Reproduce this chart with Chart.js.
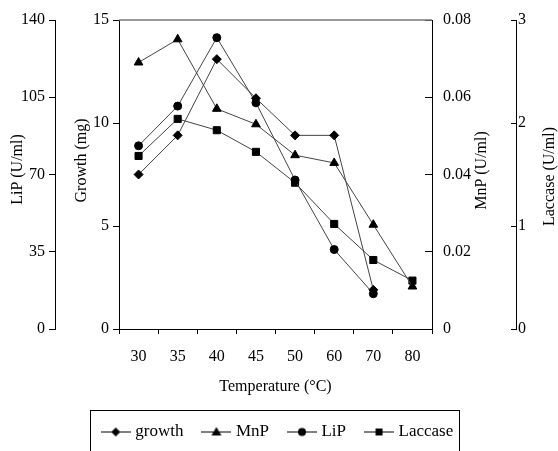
<!DOCTYPE html>
<html><head><meta charset="utf-8">
<script src="https://cdn.jsdelivr.net/npm/chart.js@4"></script>
<style>html,body{margin:0;padding:0;background:#fff}canvas{display:block}</style>
</head><body><canvas id="c" width="558" height="451"></canvas>
<script>
// ---- data ----
const temperatures = ['30', '35', '40', '45', '50', '60', '70', '80'];
const growth  = [7.5, 9.4, 13.1, 11.2, 9.4, 9.4, 1.9, null];
const mnp     = [0.069, 0.075, 0.057, 0.053, 0.045, 0.043, 0.027, 0.011];
const lip     = [83, 101, 132, 102.5, 67.5, 36, 16, null];
const laccase = [1.68, 2.04, 1.93, 1.72, 1.42, 1.02, 0.67, 0.47];
const lipTicks     = [0, 35, 70, 105, 140];
const growthTicks  = [0, 5, 10, 15];
const mnpTicks     = [0, 0.02, 0.04, 0.06, 0.08];
const laccaseTicks = [0, 1, 2, 3];
const seriesNames = ['growth', 'MnP', 'LiP', 'Laccase'];

// ---- styling ----
const FAMILY = "'Liberation Serif','Times New Roman',serif";
const FONT = {family: FAMILY, size: 16};
const LEGEND_FONT = {family: FAMILY, size: 17};
Chart.defaults.color = '#000';
Chart.defaults.font.family = FAMILY;
Chart.defaults.font.size = 16;

function makeIcon(shape) {
  const c = document.createElement('canvas');
  c.width = 30; c.height = 12;
  const g = c.getContext('2d');
  g.strokeStyle = '#000'; g.lineWidth = 1;
  g.beginPath(); g.moveTo(0, 6.5); g.lineTo(30, 6.5); g.stroke();
  g.fillStyle = '#000'; g.beginPath();
  const x = 15, y = 6.5;
  if (shape === 'diamond') { g.moveTo(x, y - 4.5); g.lineTo(x + 4.5, y); g.lineTo(x, y + 4.5); g.lineTo(x - 4.5, y); }
  else if (shape === 'triangle') { g.moveTo(x, y - 5); g.lineTo(x + 5, y + 3.5); g.lineTo(x - 5, y + 3.5); }
  else if (shape === 'circle') { g.arc(x, y, 4, 0, Math.PI * 2); }
  else { g.rect(x - 3.5, y - 3.5, 7, 7); }
  g.closePath(); g.fill();
  return c;
}
const legendIcons = [makeIcon('diamond'), makeIcon('triangle'), makeIcon('circle'), makeIcon('square')];

const yTitles = {
  yLip:     {text: 'LiP (U/ml)',     dx: 18, dy: -5},
  yGrowth:  {text: 'Growth (mg)',    dx: 27, dy: -14},
  yMnp:     {text: 'MnP (U/ml)',     dx: 50, dy: -4},
  yLaccase: {text: 'Laccase (U/ml)', dx: 34, dy: 2}
};

const extras = {
  id: 'extras',
  afterDraw(chart) {
    const ctx = chart.ctx, a = chart.chartArea;
    ctx.save();
    // top frame line
    ctx.strokeStyle = '#7a7a7a'; ctx.lineWidth = 1.5;
    ctx.beginPath(); ctx.moveTo(a.left, a.top); ctx.lineTo(a.right, a.top); ctx.stroke();
    // vertical axis titles (reading bottom to top)
    ctx.fillStyle = '#000'; ctx.font = '16px ' + FAMILY;
    ctx.textAlign = 'center'; ctx.textBaseline = 'middle';
    for (const id in yTitles) {
      const s = chart.scales[id], t = yTitles[id];
      ctx.save();
      ctx.translate(s.left + t.dx, (s.top + s.bottom) / 2 + t.dy);
      ctx.rotate(-Math.PI / 2);
      ctx.fillText(t.text, 0, 0);
      ctx.restore();
    }
    // legend frame
    const lg = chart.legend, hb = lg.legendHitBoxes;
    if (hb && hb.length) {
      const last = hb[hb.length - 1];
      const x0 = Math.round(hb[0].left - 15) + 0.5;
      const x1 = Math.round(last.left + last.width + 6) + 0.5;
      const y0 = Math.round(lg.top + 9) + 0.5;
      ctx.strokeStyle = '#000'; ctx.lineWidth = 1;
      ctx.strokeRect(x0, y0, x1 - x0, 100);
    }
    ctx.restore();
  }
};

function yAxis(pos, weight, width, ticksArr, min, max, tl, pad) {
  return {
    type: 'linear', position: pos, weight: weight, min: min, max: max,
    afterBuildTicks: s => { s.ticks = ticksArr.map(v => ({value: v})); },
    afterFit: s => { s.width = width; s.paddingTop = 0; s.paddingBottom = 0; },
    grid: {drawOnChartArea: false, drawTicks: true, tickLength: tl, color: '#000', lineWidth: 1},
    border: {display: true, color: '#000', width: 1},
    ticks: {padding: pad, font: FONT, color: '#000', callback: v => String(v)},
    title: {display: false}
  };
}

const common = {borderColor: '#444', borderWidth: 1, pointBackgroundColor: '#000', pointBorderColor: '#000',
  pointBorderWidth: 1, tension: 0, fill: false, spanGaps: false};

new Chart(document.getElementById('c'), {
  type: 'line',
  data: {
    labels: temperatures,
    datasets: [
      Object.assign({label: seriesNames[0], data: growth,  yAxisID: 'yGrowth',  pointStyle: 'rectRot',  pointRadius: 4.5}, common),
      Object.assign({label: seriesNames[1], data: mnp,     yAxisID: 'yMnp',     pointStyle: 'triangle', pointRadius: 5}, common),
      Object.assign({label: seriesNames[2], data: lip,     yAxisID: 'yLip',     pointStyle: 'circle',   pointRadius: 4}, common),
      Object.assign({label: seriesNames[3], data: laccase, yAxisID: 'yLaccase', pointStyle: 'rect',     pointRadius: 5}, common)
    ]
  },
  options: {
    responsive: false, animation: false, devicePixelRatio: 1,
    layout: {padding: {top: 20, left: 0, right: 0, bottom: 1}},
    plugins: {
      tooltip: {enabled: false},
      legend: {
        position: 'bottom',
        labels: {
          usePointStyle: true, pointStyleWidth: 22, padding: 22, font: LEGEND_FONT, color: '#000',
          generateLabels: chart => chart.data.datasets.map((ds, i) => ({
            text: ds.label, pointStyle: legendIcons[i], fillStyle: '#000', strokeStyle: '#000',
            lineWidth: 0, hidden: false, datasetIndex: i, fontColor: '#000'
          }))
        }
      }
    },
    scales: {
      x: {
        type: 'category', offset: true,
        afterFit: s => { s.height = 72; },
        grid: {offset: true, drawOnChartArea: false, drawTicks: true, tickLength: 5, color: '#000'},
        border: {display: true, color: '#000', width: 1},
        ticks: {padding: 13, font: FONT, color: '#000', maxRotation: 0, autoSkip: false},
        title: {display: true, text: 'Temperature (°C)', font: FONT, color: '#000', padding: {top: 0, bottom: 5}}
      },
      yLip:     yAxis('left', 1, 55, lipTicks, 0, 140, 6, 4),
      yGrowth:  yAxis('left', 0, 64, growthTicks, 0, 15, 6, 4),
      yMnp:     yAxis('right', 0, 84, mnpTicks, 0, 0.08, -7, 18),
      yLaccase: yAxis('right', 1, 42, laccaseTicks, 0, 3, -5, 7)
    }
  },
  plugins: [extras]
});
</script>
</body></html>
